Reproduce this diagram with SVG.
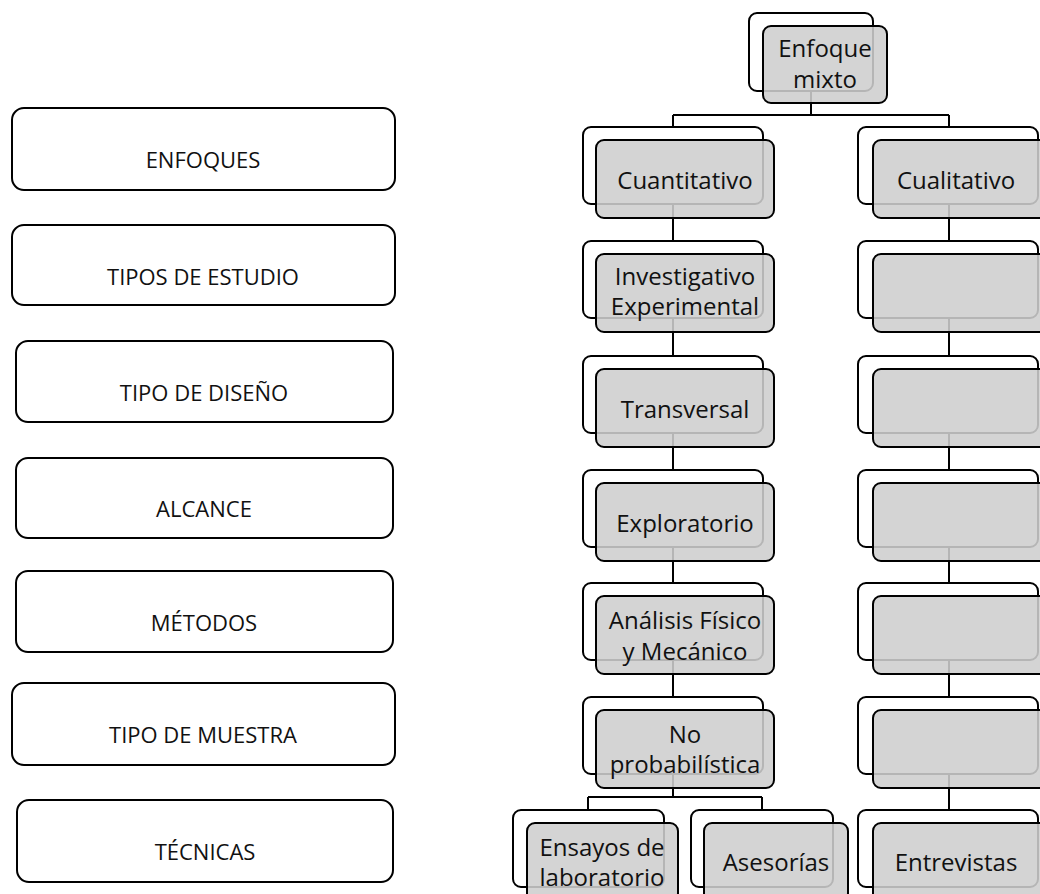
<svg xmlns="http://www.w3.org/2000/svg" width="1040" height="894" viewBox="0 0 1040 894">
<style>
  .lbox{fill:#fff;stroke:#000;stroke-width:2}
  .back{fill:#fff;stroke:#000;stroke-width:2}
  .front{fill:#cecece;fill-opacity:0.88;stroke:#000;stroke-width:2}
  .conn{fill:none;stroke:#000;stroke-width:2}
  .lt{font-family:"Open Sans","Noto Sans",sans-serif;font-size:22px;fill:#111;text-anchor:middle}
  .tt{font-family:"Open Sans","Noto Sans",sans-serif;font-size:24px;fill:#111;text-anchor:middle}
</style>
<rect width="1040" height="894" fill="#fff"/>
<g id="left-labels">
  <g id="l-enfoques"><rect class="lbox" x="12" y="108" width="383" height="82" rx="12"/><text class="lt" x="203" y="168">ENFOQUES</text></g>
  <g id="l-tipos-estudio"><rect class="lbox" x="12" y="225" width="383" height="80" rx="12"/><text class="lt" x="203" y="285">TIPOS DE ESTUDIO</text></g>
  <g id="l-tipo-diseno"><rect class="lbox" x="16" y="341" width="377" height="81" rx="12"/><text class="lt" x="204" y="401">TIPO DE DISEÑO</text></g>
  <g id="l-alcance"><rect class="lbox" x="16" y="458" width="377" height="80" rx="12"/><text class="lt" x="204" y="517">ALCANCE</text></g>
  <g id="l-metodos"><rect class="lbox" x="16" y="571" width="377" height="81" rx="12"/><text class="lt" x="204" y="631">MÉTODOS</text></g>
  <g id="l-tipo-muestra"><rect class="lbox" x="12" y="683" width="383" height="82" rx="12"/><text class="lt" x="203" y="743">TIPO DE MUESTRA</text></g>
  <g id="l-tecnicas"><rect class="lbox" x="17" y="800" width="376" height="82" rx="12"/><text class="lt" x="205" y="860">TÉCNICAS</text></g>
</g>
<g id="connectors">
  <path class="conn" d="M811 91V115M673 115H949M673 115V127M949 115V127"/>
  <path class="conn" d="M673 204V241M673 318V356M673 433V470M673 547V583M673 660V697"/>
  <path class="conn" d="M949 204V241M949 318V356M949 433V470M949 547V583M949 660V697M949 774V810"/>
  <path class="conn" d="M673 774V797M588 797H762M588 797V810M762 797V810"/>
</g>
<g id="n-mixto"><rect class="back" x="749" y="13" width="124" height="78" rx="8"/><rect class="front" x="763" y="26" width="124" height="77" rx="8"/><text class="tt" x="825" y="57">Enfoque</text><text class="tt" x="825" y="88">mixto</text></g>
<g id="n-cuantitativo"><rect class="back" x="583" y="127" width="180" height="77" rx="8"/><rect class="front" x="596" y="140" width="178" height="78" rx="8"/><text class="tt" x="685" y="189">Cuantitativo</text></g>
<g id="n-cualitativo"><rect class="back" x="858" y="127" width="180" height="77" rx="8"/><rect class="front" x="873" y="140" width="178" height="78" rx="8"/><text class="tt" x="956" y="189">Cualitativo</text></g>
<g id="n-investigativo"><rect class="back" x="583" y="241" width="180" height="77" rx="8"/><rect class="front" x="596" y="254" width="178" height="78" rx="8"/><text class="tt" x="685" y="285">Investigativo</text><text class="tt" x="685" y="315">Experimental</text></g>
<g id="n-r2"><rect class="back" x="858" y="241" width="180" height="77" rx="8"/><rect class="front" x="873" y="254" width="178" height="78" rx="8"/></g>
<g id="n-transversal"><rect class="back" x="583" y="356" width="180" height="77" rx="8"/><rect class="front" x="596" y="369" width="178" height="78" rx="8"/><text class="tt" x="685" y="418">Transversal</text></g>
<g id="n-r3"><rect class="back" x="858" y="356" width="180" height="77" rx="8"/><rect class="front" x="873" y="369" width="178" height="78" rx="8"/></g>
<g id="n-exploratorio"><rect class="back" x="583" y="470" width="180" height="77" rx="8"/><rect class="front" x="596" y="483" width="178" height="78" rx="8"/><text class="tt" x="685" y="532">Exploratorio</text></g>
<g id="n-r4"><rect class="back" x="858" y="470" width="180" height="77" rx="8"/><rect class="front" x="873" y="483" width="178" height="78" rx="8"/></g>
<g id="n-analisis"><rect class="back" x="583" y="583" width="180" height="77" rx="8"/><rect class="front" x="596" y="596" width="178" height="78" rx="8"/><text class="tt" x="685" y="629">Análisis Físico</text><text class="tt" x="685" y="660">y Mecánico</text></g>
<g id="n-r5"><rect class="back" x="858" y="583" width="180" height="77" rx="8"/><rect class="front" x="873" y="596" width="178" height="78" rx="8"/></g>
<g id="n-noprob"><rect class="back" x="583" y="697" width="180" height="77" rx="8"/><rect class="front" x="596" y="710" width="178" height="78" rx="8"/><text class="tt" x="685" y="743">No</text><text class="tt" x="685" y="773">probabilística</text></g>
<g id="n-r6"><rect class="back" x="858" y="697" width="180" height="77" rx="8"/><rect class="front" x="873" y="710" width="178" height="78" rx="8"/></g>
<g id="n-ensayos"><rect class="back" x="513" y="810" width="151" height="77" rx="8"/><rect class="front" x="527" y="823" width="151" height="78" rx="8"/><text class="tt" x="602" y="856">Ensayos de</text><text class="tt" x="602" y="886">laboratorio</text></g>
<g id="n-asesorias"><rect class="back" x="691" y="810" width="142" height="77" rx="8"/><rect class="front" x="704" y="823" width="144" height="78" rx="8"/><text class="tt" x="776" y="871">Asesorías</text></g>
<g id="n-entrevistas"><rect class="back" x="858" y="810" width="180" height="77" rx="8"/><rect class="front" x="873" y="823" width="178" height="78" rx="8"/><text class="tt" x="956" y="871">Entrevistas</text></g>
</svg>
